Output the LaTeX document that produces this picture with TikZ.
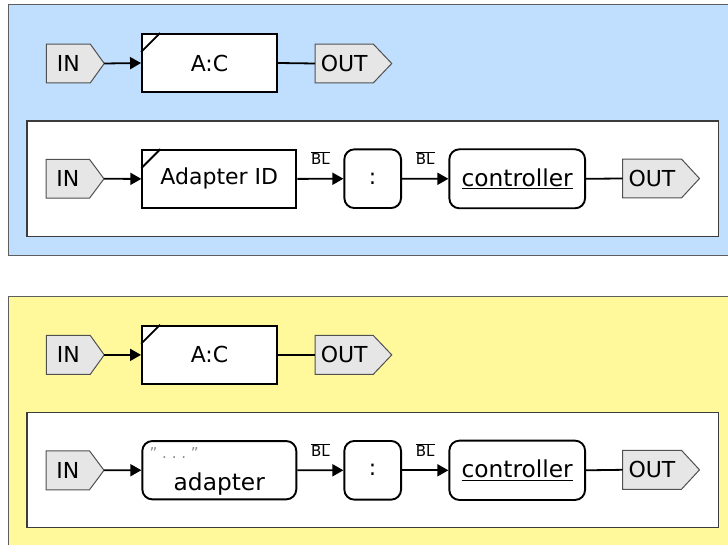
\documentclass[tikz,border=0pt]{standalone}
\usepackage{fontspec}
\setmainfont{DejaVu Sans}
\usetikzlibrary{arrows.meta}
\pgfdeclarelayer{back}
\pgfdeclarelayer{mid}
\pgfsetlayers{back,mid,main}

\definecolor{panelblue}{HTML}{C0DFFF}
\definecolor{panelyellow}{HTML}{FFF99C}
\definecolor{panelline}{HTML}{5E5E5E}
\definecolor{frameline}{HTML}{3C3C3C}
\definecolor{tagfill}{HTML}{E6E6E6}
\definecolor{tagline}{HTML}{505050}
\definecolor{hintgray}{HTML}{8A8A8A}

% pentagon tag drawn behind a named body node; #2 = pointer length
\newcommand\tagoutline[2]{%
  \begin{pgfonlayer}{mid}
    \filldraw[tagstroke] (#1.north west) -- (#1.north east)
      -- ([xshift=#2]#1.east) -- (#1.south east) -- (#1.south west) -- cycle;
  \end{pgfonlayer}
  \coordinate (#1-tip) at ([xshift=#2]#1.east);}

% small slanted corner mark in the upper left of a box
\newcommand\cornermark[1]{%
  \draw[boxstroke] ([yshift=-19pt]#1.north west) -- ([xshift=19pt]#1.north west);}

\begin{document}
\begin{tikzpicture}[x=1pt,y=-1pt,
  txt/.style={font=\fontsize{22}{24}\selectfont},
  tagbody/.style={txt, inner sep=0pt, minimum height=38.5pt},
  tagstroke/.style={draw=tagline, fill=tagfill, line width=1pt, line join=miter},
  boxstroke/.style={draw=black, line width=1.9pt},
  plainbox/.style={txt, boxstroke, fill=white, inner sep=0pt},
  roundbox/.style={plainbox, rounded corners=10pt},
  conn/.style={line width=1.8pt},
  arr/.style={conn, -{Triangle[length=11pt,width=12pt]}},
  bl/.style={font=\fontsize{15}{17}\selectfont, inner sep=0pt, above=13pt},
  panel/.style={line width=1pt, draw=panelline},
  frame/.style={line width=1.1pt, draw=frameline, fill=white}
]
\useasboundingbox (0,0) rectangle (728,545);

% ---------------- panels ----------------
\begin{pgfonlayer}{back}
  \clip (0,0) rectangle (728,545);
  \path[panel, fill=panelblue] (8,5) rectangle (745,255.7);
  \path[frame] (27,121) rectangle (718.7,236.7);
  \path[panel, fill=panelyellow] (8,296.7) rectangle (745,560);
  \path[frame] (27,412.7) rectangle (718.7,527.7);
\end{pgfonlayer}

% ---------------- blue: short form ----------------
\node[tagbody, minimum width=43.5pt] (inA) at (68.3,63.5) {IN};
\tagoutline{inA}{14pt}
\node[plainbox, minimum width=135pt, minimum height=58pt] (acA) at (209.5,63) {A:C};
\cornermark{acA}
\node[tagbody, minimum width=57.7pt] (outA) at (344.2,63.5) {OUT};
\tagoutline{outA}{18.5pt}
\draw[arr] (inA-tip) -- (acA.west);
\draw[conn] (acA.east) -- (outA.west);

% ---------------- blue: expanded form ----------------
\node[tagbody, minimum width=43pt] (inB) at (67.8,178.8) {IN};
\tagoutline{inB}{14.5pt}
\node[plainbox, minimum width=154pt, minimum height=57.7pt] (adB) at (219.3,178.9) {Adapter ID};
\cornermark{adB}
\node[roundbox, minimum width=56.7pt, minimum height=58.7pt] (colB) at (372.7,178.7) {:};
\node[roundbox, minimum width=135.7pt, minimum height=59pt, font=\fontsize{23.3}{25}\selectfont] (ctlB) at (517.2,178.8) {\underline{controller}};
\node[tagbody, minimum width=58.6pt] (outB) at (652,178.5) {OUT};
\tagoutline{outB}{18pt}
\draw[arr] (inB-tip) -- (adB.west);
\draw[arr] (adB.east) -- node[bl] {$\overline{\hbox{BL}}$} (colB.west);
\draw[arr] (colB.east) -- node[bl] {$\overline{\hbox{BL}}$} (ctlB.west);
\draw[conn] (ctlB.east) -- (outB.west);

% ---------------- yellow: short form ----------------
\node[tagbody, minimum width=43.5pt] (inC) at (68.3,354.9) {IN};
\tagoutline{inC}{14pt}
\node[plainbox, minimum width=135pt, minimum height=58.3pt] (acC) at (209.5,354.9) {A:C};
\cornermark{acC}
\node[tagbody, minimum width=57.7pt] (outC) at (344.2,354.9) {OUT};
\tagoutline{outC}{18.5pt}
\draw[arr] (inC-tip) -- (acC.west);
\draw[conn] (acC.east) -- (outC.west);

% ---------------- yellow: expanded form ----------------
\node[tagbody, minimum width=43pt] (inD) at (67.8,470.3) {IN};
\tagoutline{inD}{14.5pt}
\node[roundbox, minimum width=154pt, minimum height=58.3pt] (adD) at (219.3,470.2) {};
\node[txt, font=\fontsize{23.3}{25}\selectfont, anchor=base, inner sep=0pt] (adtxt) at (219.3,490) {adapter};
\node[font=\fontsize{15}{17}\selectfont, text=hintgray, anchor=west, inner sep=0pt] (adhint) at (149.5,453) {\char"22\ .\ .\ .\ \char"22};
\node[roundbox, minimum width=56.7pt, minimum height=58.7pt] (colD) at (372.7,470.3) {:};
\node[roundbox, minimum width=135.7pt, minimum height=59.3pt, font=\fontsize{23.3}{25}\selectfont] (ctlD) at (517.2,470.3) {\underline{controller}};
\node[tagbody, minimum width=58.6pt] (outD) at (652,469.8) {OUT};
\tagoutline{outD}{18pt}
\draw[arr] (inD-tip) -- (adD.west);
\draw[arr] (adD.east) -- node[bl] {$\overline{\hbox{BL}}$} (colD.west);
\draw[arr] (colD.east) -- node[bl] {$\overline{\hbox{BL}}$} (ctlD.west);
\draw[conn] (ctlD.east) -- (outD.west);
\end{tikzpicture}
\end{document}
